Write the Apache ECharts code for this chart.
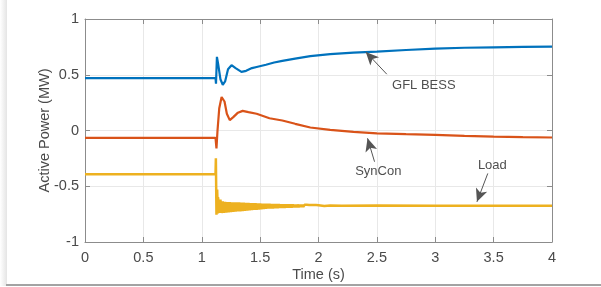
<!DOCTYPE html>
<html><head><meta charset="utf-8">
<script src="https://cdn.jsdelivr.net/npm/echarts@6/dist/echarts.min.js"></script>
<style>
html,body{margin:0;padding:0;background:#fff;}
#wrap{position:relative;width:601px;height:287px;overflow:hidden;}
#shadowL{position:absolute;left:0;top:0;width:7px;height:286px;background:linear-gradient(to right,#fff,#e4e4e4);}
#shadowB{position:absolute;left:6px;top:284px;width:595px;height:2px;background:#a3a3a3;}
#chart{position:absolute;left:0;top:0;width:601px;height:287px;}
</style></head>
<body><div id="wrap"><div id="shadowL"></div><div id="shadowB"></div><div id="chart"></div></div>
<script>
// Time (s) and Active Power (MW) values
const bessT = [0,1.118,1.122,1.13,1.14,1.16,1.18,1.2,1.225,1.255,1.29,1.34,1.38,1.43,1.47,1.55,1.62,1.69,1.8,1.93,2.1,2.3,2.5,2.75,3.0,3.25,3.5,3.75,4.0];
const bessP = [0.47,0.47,0.42,0.66,0.6,0.46,0.41,0.44,0.55,0.586,0.56,0.526,0.535,0.56,0.57,0.59,0.61,0.625,0.645,0.667,0.685,0.698,0.708,0.722,0.735,0.742,0.746,0.75,0.752];

const synT = [0,1.118,1.126,1.135,1.15,1.17,1.18,1.195,1.215,1.24,1.27,1.31,1.35,1.4,1.47,1.58,1.69,1.8,1.93,2.1,2.3,2.5,2.75,3.0,3.25,3.5,3.75,4.0];
const synP = [-0.066,-0.066,-0.16,0.0,0.2,0.3,0.317,0.26,0.15,0.093,0.12,0.16,0.176,0.165,0.15,0.11,0.09,0.06,0.027,0.005,-0.012,-0.025,-0.033,-0.04,-0.048,-0.055,-0.06,-0.063];

const loadT = [0,1.118,1.121,1.126,1.132,1.138,
  1.14,1.15,1.16,1.17,1.18,1.19,1.20,1.21,1.22,1.23,1.24,1.25,1.26,1.27,1.28,1.29,
  1.30,1.31,1.32,1.33,1.34,1.35,1.36,1.37,1.38,1.39,1.40,1.41,1.42,1.43,1.44,1.45,1.46,1.47,1.48,1.49,
  1.50,1.51,1.52,1.53,1.54,1.55,1.56,1.57,1.58,1.59,1.60,1.61,1.62,1.63,1.64,1.65,1.66,1.67,1.68,1.69,
  1.70,1.71,1.72,1.73,1.74,1.75,1.76,1.77,1.78,1.79,1.80,1.81,1.82,1.83,1.84,1.85,1.86,1.87,1.88,1.89,
  1.90,1.91,1.92,1.93,1.94,1.95,1.96,1.97,1.98,1.99,2.00,2.05,2.10,2.20,2.5,3.0,4.0];
const loadP = [-0.392,-0.392,-0.25,-0.755,-0.53,-0.745,
  -0.60,-0.74,-0.62,-0.74,-0.635,-0.738,-0.64,-0.736,-0.642,-0.734,-0.643,-0.732,-0.644,-0.73,-0.645,-0.728,
  -0.645,-0.726,-0.646,-0.724,-0.647,-0.722,-0.648,-0.72,-0.649,-0.718,-0.65,-0.716,-0.651,-0.714,-0.652,-0.712,-0.653,-0.71,-0.654,-0.708,
  -0.655,-0.706,-0.656,-0.704,-0.657,-0.702,-0.658,-0.70,-0.658,-0.699,-0.659,-0.698,-0.66,-0.697,-0.661,-0.696,-0.661,-0.695,-0.662,-0.694,
  -0.662,-0.693,-0.663,-0.692,-0.663,-0.691,-0.664,-0.69,-0.664,-0.689,-0.665,-0.688,-0.665,-0.687,-0.666,-0.686,-0.666,-0.685,-0.667,-0.684,
  -0.667,-0.683,-0.668,-0.682,-0.668,-0.681,-0.669,-0.68,-0.669,-0.679,-0.67,-0.677,-0.672,-0.674,-0.673,-0.674,-0.674];

const xTicks = [0,0.5,1,1.5,2,2.5,3,3.5,4];
const yTicks = [-1,-0.5,0,0.5,1];

// annotations: label, text centre, arrow tail, arrow head (data coordinates)
const annLabels = ['GFL BESS','SynCon','Load'];
const annTextT = [2.902,2.512,3.489];
const annTextP = [0.407,-0.37,-0.31];
const annTailT = [2.585,2.48,3.45];
const annTailP = [0.505,-0.28,-0.385];
const annHeadT = [2.405,2.42,3.357];
const annHeadP = [0.705,-0.07,-0.64];

const zip = (a,b) => a.map((v,i)=>[v,b[i]]);
const FONT = '"Liberation Sans", Arial, sans-serif';
const chart = echarts.init(document.getElementById('chart'));
const axisCommon = {
  type:'value',
  axisLine:{show:true,onZero:false,lineStyle:{color:'#8c8c8c',width:1}},
  axisTick:{show:true,inside:true,length:5,lineStyle:{color:'#8c8c8c'}},
  splitLine:{show:false}
};
chart.setOption({
  animation:false,
  grid:{left:85,right:49,top:19,bottom:45,containLabel:false},
  xAxis:[
    Object.assign({}, axisCommon, {min:xTicks[0],max:xTicks[xTicks.length-1],interval:0.5,position:'bottom',
      axisLabel:{color:'#4a4a4a',fontSize:14.5,fontFamily:FONT,margin:8,formatter:v=>String(v)},
      splitLine:{show:true,lineStyle:{color:'#e8e8e8',width:1}},
      name:'Time (s)',nameLocation:'middle',nameGap:25,nameMoveOverlap:false,
      nameTextStyle:{color:'#4a4a4a',fontSize:14.5,fontFamily:FONT}}),
    Object.assign({}, axisCommon, {min:xTicks[0],max:xTicks[xTicks.length-1],interval:0.5,position:'top',axisLabel:{show:false}})
  ],
  yAxis:[
    Object.assign({}, axisCommon, {min:yTicks[0],max:yTicks[yTicks.length-1],interval:0.5,position:'left',
      axisLabel:{color:'#4a4a4a',fontSize:14.5,fontFamily:FONT,margin:6,formatter:v=>String(v)},
      splitLine:{show:true,lineStyle:{color:'#e8e8e8',width:1}},
      name:'Active Power (MW)',nameLocation:'middle',nameGap:33,nameRotate:90,nameMoveOverlap:false,
      nameTextStyle:{color:'#4a4a4a',fontSize:14.5,fontFamily:FONT}}),
    Object.assign({}, axisCommon, {min:yTicks[0],max:yTicks[yTicks.length-1],interval:0.5,position:'right',axisLabel:{show:false}})
  ],
  series:[
    {type:'line',data:zip(loadT,loadP),showSymbol:false,lineStyle:{color:'#EDB120',width:2.5},z:2},
    {type:'line',data:zip(synT,synP),showSymbol:false,lineStyle:{color:'#D95319',width:2.2},z:3},
    {type:'line',data:zip(bessT,bessP),showSymbol:false,lineStyle:{color:'#0072BD',width:2.2},z:4},
    {type:'scatter',symbolSize:0,z:10,
      data:annLabels.map((s,i)=>({value:[annTextT[i],annTextP[i]],name:s})),
      label:{show:true,position:'inside',formatter:p=>p.name,color:'#222',fontSize:13,fontFamily:FONT},
      markLine:{silent:true,symbol:['none','arrow'],symbolSize:[9,13],animation:false,
        lineStyle:{color:'#555',width:1,type:'solid'},label:{show:false},
        itemStyle:{color:'#111'},
        data:annLabels.map((s,i)=>[{coord:[annTailT[i],annTailP[i]]},{coord:[annHeadT[i],annHeadP[i]],itemStyle:{color:'#111'}}])}
    }
  ]
});
</script></body></html>
